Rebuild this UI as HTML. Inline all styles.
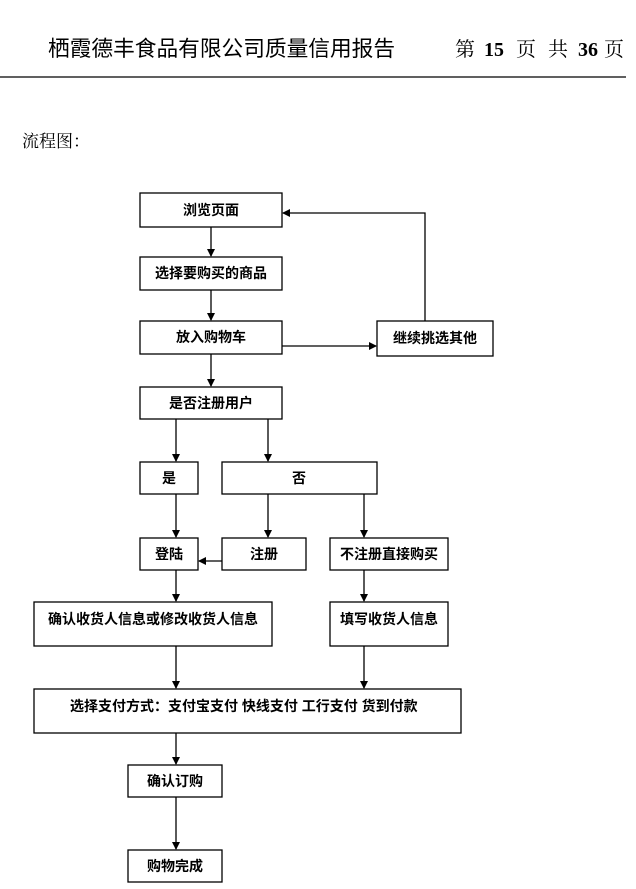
<!DOCTYPE html>
<html><head><meta charset="utf-8"><style>
html,body{margin:0;padding:0;background:#fff;}
svg{display:block;}
text{font-family:"Liberation Serif","Noto Serif CJK SC","Noto Sans CJK SC",serif;fill:#000;}
.b{font-family:"Liberation Sans","Noto Sans CJK SC",sans-serif;font-size:14px;font-weight:bold;}
rect{fill:#fff;stroke:#000;stroke-width:1.3;}
line,polyline{stroke:#000;stroke-width:1.3;fill:none;}
</style></head><body>
<svg width="636" height="889" viewBox="0 0 636 889" xmlns="http://www.w3.org/2000/svg">
<defs><marker id="a" markerWidth="8" markerHeight="8" refX="7" refY="4" orient="auto" markerUnits="userSpaceOnUse"><path d="M0,0 L8,4 L0,8 z" fill="#000"/></marker></defs>
<text x="48" y="56" style="font-family:'Liberation Sans','Noto Sans CJK SC',sans-serif;font-size:21.7px">栖霞德丰食品有限公司质量信用报告</text>
<text x="455" y="56" style="font-size:20px">第</text>
<text x="484" y="56" style="font-size:20px;font-weight:bold">15</text>
<text x="516" y="56" style="font-size:20px">页</text>
<text x="548" y="56" style="font-size:20px">共</text>
<text x="578" y="56" style="font-size:20px;font-weight:bold">36</text>
<text x="604" y="56" style="font-size:20px">页</text>
<line x1="0" y1="77" x2="626" y2="77"/>
<text x="22" y="147" style="font-size:17px">流程图：</text>

<rect x="140" y="193" width="142" height="34"/><text class="b" x="211" y="215" text-anchor="middle">浏览页面</text>
<rect x="140" y="257" width="142" height="33"/><text class="b" x="211" y="278" text-anchor="middle">选择要购买的商品</text>
<rect x="140" y="321" width="142" height="33"/><text class="b" x="211" y="342" text-anchor="middle">放入购物车</text>
<rect x="377" y="321" width="116" height="35"/><text class="b" x="435" y="343" text-anchor="middle">继续挑选其他</text>
<rect x="140" y="387" width="142" height="32"/><text class="b" x="211" y="408" text-anchor="middle">是否注册用户</text>
<rect x="140" y="462" width="58" height="32"/><text class="b" x="169" y="483" text-anchor="middle">是</text>
<rect x="222" y="462" width="155" height="32"/><text class="b" x="299" y="483" text-anchor="middle">否</text>
<rect x="140" y="538" width="58" height="32"/><text class="b" x="169" y="559" text-anchor="middle">登陆</text>
<rect x="222" y="538" width="84" height="32"/><text class="b" x="264" y="559" text-anchor="middle">注册</text>
<rect x="330" y="538" width="118" height="32"/><text class="b" x="389" y="559" text-anchor="middle">不注册直接购买</text>
<rect x="34" y="602" width="238" height="44"/><text class="b" x="153" y="624" text-anchor="middle">确认收货人信息或修改收货人信息</text>
<rect x="330" y="602" width="118" height="44"/><text class="b" x="389" y="624" text-anchor="middle">填写收货人信息</text>
<rect x="34" y="689" width="427" height="44"/><text class="b" x="70" y="711">选择支付方式：支付宝支付  快线支付  工行支付  货到付款</text>
<rect x="128" y="765" width="94" height="32"/><text class="b" x="175" y="786" text-anchor="middle">确认订购</text>
<rect x="128" y="850" width="94" height="32"/><text class="b" x="175" y="871" text-anchor="middle">购物完成</text>

<line x1="211" y1="227" x2="211" y2="256" marker-end="url(#a)"/>
<line x1="211" y1="290" x2="211" y2="320" marker-end="url(#a)"/>
<line x1="211" y1="354" x2="211" y2="386" marker-end="url(#a)"/>
<line x1="282" y1="346" x2="376" y2="346" marker-end="url(#a)"/>
<polyline points="425,321 425,213 283,213" marker-end="url(#a)"/>
<line x1="176" y1="419" x2="176" y2="461" marker-end="url(#a)"/>
<line x1="268" y1="419" x2="268" y2="461" marker-end="url(#a)"/>
<line x1="176" y1="494" x2="176" y2="537" marker-end="url(#a)"/>
<line x1="268" y1="494" x2="268" y2="537" marker-end="url(#a)"/>
<line x1="364" y1="494" x2="364" y2="537" marker-end="url(#a)"/>
<line x1="222" y1="561" x2="199" y2="561" marker-end="url(#a)"/>
<line x1="176" y1="570" x2="176" y2="601" marker-end="url(#a)"/>
<line x1="364" y1="570" x2="364" y2="601" marker-end="url(#a)"/>
<line x1="176" y1="646" x2="176" y2="688" marker-end="url(#a)"/>
<line x1="364" y1="646" x2="364" y2="688" marker-end="url(#a)"/>
<line x1="176" y1="733" x2="176" y2="764" marker-end="url(#a)"/>
<line x1="176" y1="797" x2="176" y2="849" marker-end="url(#a)"/>
</svg>
</body></html>
